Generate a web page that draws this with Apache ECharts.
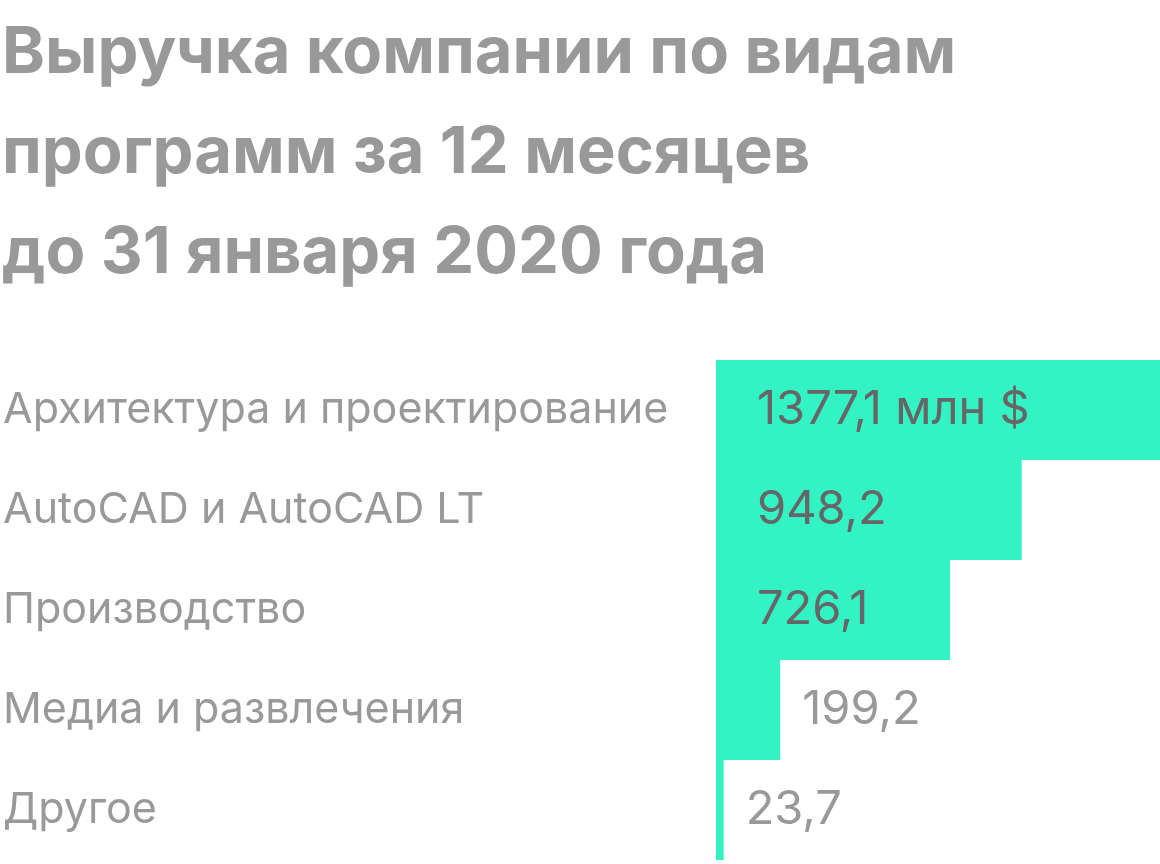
<!DOCTYPE html>
<html><head><meta charset="utf-8">
<script src="https://cdn.jsdelivr.net/npm/echarts@6/dist/echarts.min.js"></script>
<style>html,body{margin:0;padding:0;background:#fff}#c{width:1160px;height:864px}</style>
</head><body><div id="c"></div>
<script>
const titleText = 'Выручка компании по видам\nпрограмм за 12 месяцев\nдо 31 января 2020 года';
const categories = ['Архитектура и проектирование','AutoCAD и AutoCAD LT','Производство','Медиа и развлечения','Другое'];
const values = [1377.1, 948.2, 726.1, 199.2, 23.7];
const valueLabels = ['1377,1 млн $','948,2','726,1','199,2','23,7'];
const insideFlags = [true, true, true, false, false];

const chart = echarts.init(document.getElementById('c'), null, {renderer:'canvas'});
const data = values.map((v,i)=>({
  value: v,
  label: insideFlags[i]
    ? {position:'insideLeft', distance:41, color:'#666666'}
    : {position:'right', distance:22, color:'#999999'}
}));
chart.setOption({
  animation:false,
  backgroundColor:'#ffffff',
  title:{
    text:titleText, left:-3, top:-2,
    textStyle:{fontFamily:'Inter', fontWeight:'bold', fontSize:65, lineHeight:100, color:'#999999'}
  },
  grid:{left:713, right:0, top:360, bottom:4, containLabel:false},
  xAxis:{type:'value', min:0, max:1377.1, show:false},
  yAxis:{type:'category', inverse:true, data:categories,
    axisLine:{show:false}, axisTick:{show:false},
    axisLabel:{align:'left', margin:713, fontFamily:'Inter', fontSize:43, color:'#999999'}},
  series:[{
    type:'bar', data:data, barCategoryGap:0,
    itemStyle:{color:'#33F2C4'},
    label:{show:true, fontFamily:'Inter', fontSize:47,
      formatter:(p)=>valueLabels[p.dataIndex]}
  }]
});
</script></body></html>
